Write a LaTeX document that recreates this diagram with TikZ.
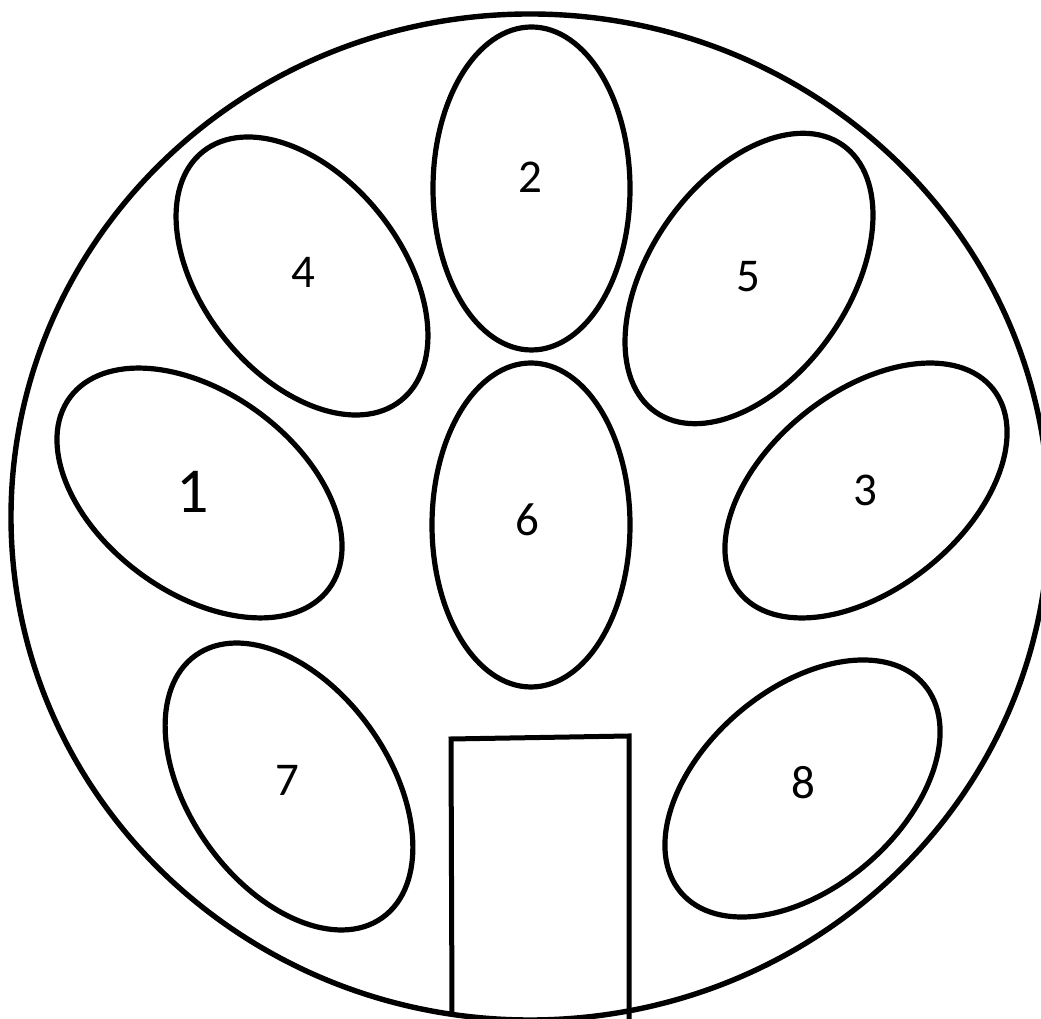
\documentclass[tikz,border=0pt]{standalone}
\usepackage{fontspec}
\setmainfont{Carlito}
\begin{document}
\begin{tikzpicture}[x=1pt,y=1pt,
  petal/.style={draw=black, line width=5.2pt},
  lbl/.style={inner sep=0pt, font=\fontsize{47}{50}\selectfont},
  biglbl/.style={inner sep=0pt, font=\fontsize{64}{68}\selectfont}]
\useasboundingbox (0,0) rectangle (1041,1019);
\clip (0,0) rectangle (1041,1019);
% outer circle
\draw[line width=5.4pt] (530,502) ellipse [x radius=519, y radius=503];
% petals
\draw[petal] (531.5,830.5) ellipse [x radius=98.5, y radius=161.5];
\draw[petal] (531,494) ellipse [x radius=99, y radius=162];
\draw[petal, rotate around={38.5:(302,743)}] (302,743) ellipse [x radius=99.5, y radius=159];
\draw[petal, rotate around={-35:(749,740.5)}] (749,740.5) ellipse [x radius=99.4, y radius=163];
\draw[petal, rotate around={-36.4:(199.5,526)}] (199.5,526) ellipse [x radius=161, y radius=100];
\draw[petal, rotate around={38.7:(866,528.5)}] (866,528.5) ellipse [x radius=162.6, y radius=98.5];
\draw[petal, rotate around={35.4:(289,232.5)}] (289,232.5) ellipse [x radius=100, y radius=161];
\draw[petal, rotate around={40.6:(802.5,230.5)}] (802.5,230.5) ellipse [x radius=160, y radius=99.2];
% door
\coordinate (dl) at (452,3);
\coordinate (dtl) at (451,280);
\coordinate (dtr) at (629,283);
\coordinate (dr) at (629,-5);
\draw[line width=5pt, line join=miter] (dl) -- (dtl) -- (dtr) -- (dr);
% labels
\node[biglbl] (l1) at (193,527) {1};
\node[lbl] (l2) at (530,842) {2};
\node[lbl] (l3) at (865,529) {3};
\node[lbl] (l4) at (303,747) {4};
\node[lbl] (l5) at (748,742) {5};
\node[lbl] (l6) at (527,499) {6};
\node[lbl] (l7) at (287,239) {7};
\node[lbl] (l8) at (803,236) {8};
\end{tikzpicture}
\end{document}
